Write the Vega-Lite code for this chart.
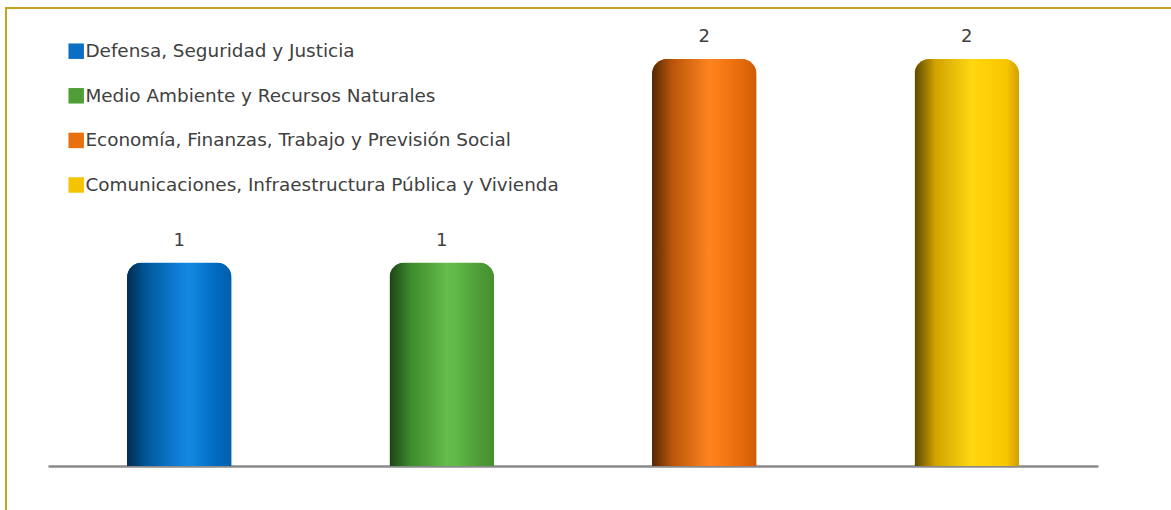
{
  "$schema": "https://vega.github.io/schema/vega-lite/v6.json",
  "width": 1175,
  "height": 512,
  "autosize": {"type": "none"},
  "padding": {"left": 6, "top": 8, "right": -10, "bottom": -10},
  "background": "#ffffff",
  "config": {
    "view": {"stroke": "#C9A41E", "strokeWidth": 2},
    "font": "DejaVu Sans"
  },
  "data": {
    "values": [
      {"sector": "Defensa, Seguridad y Justicia", "valor": 1},
      {"sector": "Medio Ambiente y Recursos Naturales", "valor": 1},
      {"sector": "Economía, Finanzas, Trabajo y Previsión Social", "valor": 2},
      {"sector": "Comunicaciones, Infraestructura Pública y Vivienda", "valor": 2}
    ]
  },
  "encoding": {
    "x": {
      "field": "sector",
      "type": "nominal",
      "sort": null,
      "scale": {"range": [42, 1092], "paddingInner": 0.602, "paddingOuter": 0.301},
      "axis": {"title": null, "labels": false, "ticks": false, "domainColor": "#8a8a8a", "domainWidth": 2.5, "offset": -54, "grid": false}
    },
    "y": {
      "field": "valor",
      "type": "quantitative",
      "scale": {"domain": [0, 2], "range": [458, 51], "nice": false, "zero": true},
      "axis": null
    }
  },
  "layer": [
    {
      "mark": {"type": "bar", "cornerRadiusTopLeft": 15, "cornerRadiusTopRight": 15},
      "encoding": {
        "color": {
          "field": "sector",
          "type": "nominal",
          "sort": null,
          "scale": {"range": ["#0a6fc2", "#4f9e38", "#e8700f", "#f5c400"]},
          "legend": {
            "title": null,
            "orient": "none",
            "legendX": 61,
            "legendY": 34,
            "symbolType": "square",
            "symbolSize": 240,
            "symbolStrokeWidth": 0,
            "labelFontSize": 18.4,
            "labelColor": "#404040",
            "labelLimit": 800,
            "labelOffset": 0,
            "rowPadding": 25.6
          }
        }
      }
    },
    {
      "transform": [{"filter": "datum.sector === 'Defensa, Seguridad y Justicia'"}],
      "mark": {
        "type": "bar", "cornerRadiusTopLeft": 15, "cornerRadiusTopRight": 15,
        "fill": {"gradient": "linear", "x1": 0, "x2": 1, "y1": 0, "y2": 0,
          "stops": [
            {"offset": 0, "color": "#002c50"},
            {"offset": 0.18, "color": "#005799"},
            {"offset": 0.5, "color": "#0f7fd8"},
            {"offset": 0.6, "color": "#1589e2"},
            {"offset": 0.85, "color": "#006ac0"},
            {"offset": 1, "color": "#005fa8"}
          ]}
      }
    },
    {
      "transform": [{"filter": "datum.sector === 'Medio Ambiente y Recursos Naturales'"}],
      "mark": {
        "type": "bar", "cornerRadiusTopLeft": 15, "cornerRadiusTopRight": 15,
        "fill": {"gradient": "linear", "x1": 0, "x2": 1, "y1": 0, "y2": 0,
          "stops": [
            {"offset": 0, "color": "#1c4316"},
            {"offset": 0.2, "color": "#3e8a2d"},
            {"offset": 0.55, "color": "#64bd4a"},
            {"offset": 0.62, "color": "#62ba48"},
            {"offset": 0.88, "color": "#4c9a35"},
            {"offset": 1, "color": "#46902f"}
          ]}
      }
    },
    {
      "transform": [{"filter": "datum.sector === 'Economía, Finanzas, Trabajo y Previsión Social'"}],
      "mark": {
        "type": "bar", "cornerRadiusTopLeft": 15, "cornerRadiusTopRight": 15,
        "fill": {"gradient": "linear", "x1": 0, "x2": 1, "y1": 0, "y2": 0,
          "stops": [
            {"offset": 0, "color": "#552805"},
            {"offset": 0.2, "color": "#bb560a"},
            {"offset": 0.55, "color": "#ff8420"},
            {"offset": 0.62, "color": "#fb7e18"},
            {"offset": 0.88, "color": "#e4680a"},
            {"offset": 1, "color": "#cc5c08"}
          ]}
      }
    },
    {
      "transform": [{"filter": "datum.sector === 'Comunicaciones, Infraestructura Pública y Vivienda'"}],
      "mark": {
        "type": "bar", "cornerRadiusTopLeft": 15, "cornerRadiusTopRight": 15,
        "fill": {"gradient": "linear", "x1": 0, "x2": 1, "y1": 0, "y2": 0,
          "stops": [
            {"offset": 0, "color": "#5a4800"},
            {"offset": 0.2, "color": "#d2a200"},
            {"offset": 0.55, "color": "#ffd812"},
            {"offset": 0.62, "color": "#ffd40a"},
            {"offset": 0.88, "color": "#f8c600"},
            {"offset": 1, "color": "#d2a000"}
          ]}
      }
    },
    {
      "mark": {"type": "text", "dy": -22, "fontSize": 18, "color": "#404040", "baseline": "middle"},
      "encoding": {"text": {"field": "valor", "type": "quantitative"}}
    }
  ]
}
